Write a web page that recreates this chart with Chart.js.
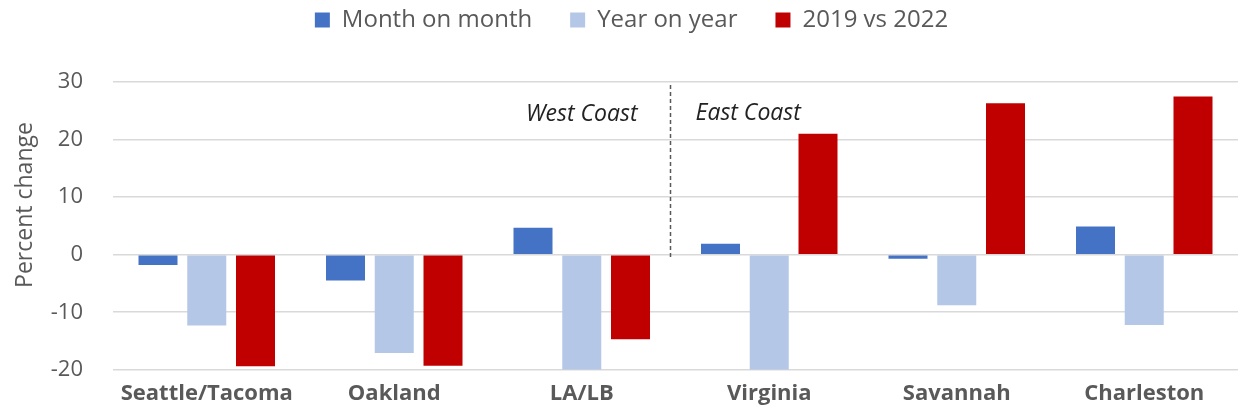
<!DOCTYPE html>
<html>
<head>
<meta charset="utf-8">
<script src="https://cdn.jsdelivr.net/npm/chart.js@4"></script>
<style>
  html, body { margin: 0; padding: 0; background: #fff; }
  #wrap { width: 1238px; height: 413px; }
</style>
</head>
<body>
<div id="wrap"><canvas id="myChart"></canvas></div>
<script>
// Data
const ports = ['Seattle/Tacoma', 'Oakland', 'LA/LB', 'Virginia', 'Savannah', 'Charleston'];
const monthOnMonth = [-1.8, -4.5, 4.7, 1.9, -0.7, 4.9];
const yearOnYear = [-12.3, -17.1, -20, -20, -8.8, -12.2];
const vs2019 = [-19.4, -19.3, -14.7, 21.0, 26.3, 27.5];
const yTicks = [-20, -10, 0, 10, 20, 30];

const textColor = '#595959';
const fontFamily = '"Open Sans", sans-serif';

// Dashed divider, coast labels and the y axis title
const coastPlugin = {
    id: 'coast',
    beforeInit(chart) {
        // extra room under the legend
        const fit = chart.legend.fit;
        chart.legend.fit = function () {
            fit.bind(chart.legend)();
            this.height = 112;
        };
    },
    afterDatasetsDraw(chart) {
        const { ctx, scales: { x, y } } = chart;
        const xDiv = (x.getPixelForValue(2) + x.getPixelForValue(3)) / 2 - 5;
        ctx.save();
        ctx.strokeStyle = '#595959';
        ctx.lineWidth = 1.5;
        ctx.setLineDash([4, 3]);
        ctx.beginPath();
        ctx.moveTo(xDiv, y.getPixelForValue(29.5));
        ctx.lineTo(xDiv, y.getPixelForValue(-0.6));
        ctx.stroke();
        ctx.setLineDash([]);
        ctx.fillStyle = '#222';
        ctx.font = 'italic 23px ' + fontFamily;
        ctx.textBaseline = 'middle';
        ctx.textAlign = 'right';
        ctx.fillText('West Coast', xDiv - 33, y.getPixelForValue(24.3));
        ctx.textAlign = 'left';
        ctx.fillText('East Coast', xDiv + 25, y.getPixelForValue(24.6));

        ctx.fillStyle = textColor;
        ctx.font = '23px ' + fontFamily;
        ctx.textAlign = 'center';
        ctx.translate(25, 205);
        ctx.rotate(-Math.PI / 2);
        ctx.fillText('Percent change', 0, 0);
        ctx.restore();
    }
};

const ctx = document.getElementById('myChart').getContext('2d');
const myChart = new Chart(ctx, {
    type: 'bar',
    data: {
        labels: ports,
        datasets: [{
            label: 'Month on month',
            data: monthOnMonth,
            backgroundColor: '#4472C4'
        }, {
            label: 'Year on year',
            data: yearOnYear,
            backgroundColor: '#B4C7E7'
        }, {
            label: '2019 vs 2022',
            data: vs2019,
            backgroundColor: '#C00000'
        }]
    },
    options: {
        responsive: true,
        maintainAspectRatio: false,
        animation: false,
        layout: { padding: { top: -30, right: 0, bottom: 0, left: 25 } },
        datasets: {
            bar: { barPercentage: 0.8, categoryPercentage: 0.78 }
        },
        plugins: {
            tooltip: { enabled: false },
            legend: {
                position: 'top',
                labels: {
                    color: textColor,
                    boxWidth: 15,
                    boxHeight: 15,
                    padding: 38,
                    font: { family: fontFamily, size: 24 }
                }
            }
        },
        scales: {
            x: {
                grid: { display: false },
                border: { display: false },
                afterFit(scale) {
                    scale.height = 36;
                },
                ticks: {
                    color: textColor,
                    padding: 3,
                    font: { family: fontFamily, size: 22, weight: 'bold' }
                }
            },
            y: {
                min: -20,
                max: 30,
                afterBuildTicks(scale) {
                    scale.ticks = yTicks.map(v => ({ value: v }));
                },
                afterFit(scale) {
                    scale.width = 88;
                },
                grid: { color: '#d9d9d9', lineWidth: 1.5, drawTicks: false },
                border: { display: false },
                ticks: {
                    color: textColor,
                    padding: 30,
                    font: { family: fontFamily, size: 22 }
                }
            }
        }
    },
    plugins: [coastPlugin]
});
</script>
</body>
</html>
